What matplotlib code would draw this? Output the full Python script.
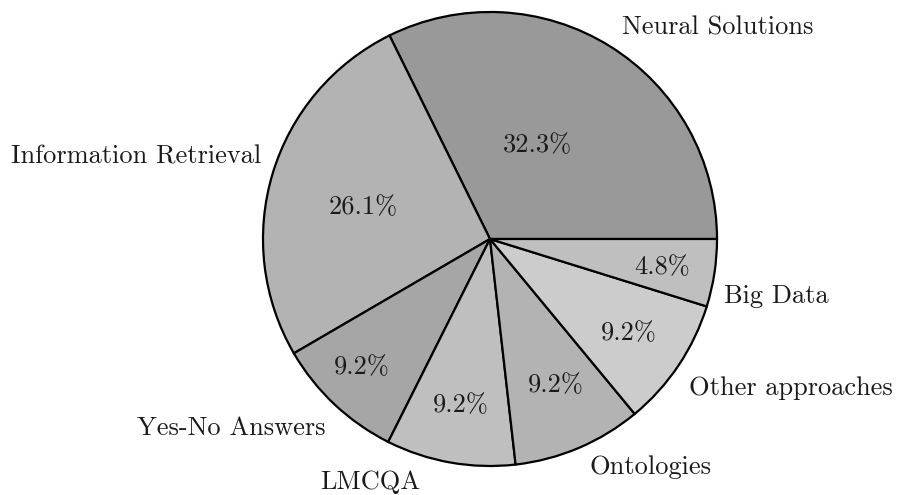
import numpy as np
import matplotlib
matplotlib.use('Agg')
from matplotlib import pyplot as plt

#%% data
categories = ['Neural Solutions', 'Information Retrieval', 'Yes-No Answers', 'LMCQA',
              'Ontologies', 'Other approaches', 'Big Data']
shares = [32.3, 26.1, 9.2, 9.2, 9.2, 9.2, 4.8]
greys = ['#999999', '#b3b3b3', '#a6a6a6', '#bfbfbf', '#b3b3b3', '#cccccc', '#bfbfbf']

# label placement (pie radius = 1)
pct_pos = [(0.211, 0.414), (-0.559, 0.141), (-0.564, -0.564), (-0.128, -0.731),
           (0.291, -0.643), (0.612, -0.414), (0.758, -0.123)]
name_pos = [(1.004, 0.93), (-1.559, 0.361), (-1.141, -0.833), (-0.529, -1.072),
            (0.709, -1.004), (1.326, -0.656), (1.26, -0.251)]

plt.rcParams['font.family'] = ['cmr10', 'DejaVu Serif']
plt.rcParams['axes.unicode_minus'] = False

#%% plot
fig = plt.figure(figsize=(8.99, 4.95), dpi=100)
ax = fig.add_axes([0, 0, 1, 1])
ax.pie(shares, colors=greys, startangle=0, counterclock=True,
       wedgeprops=dict(edgecolor='black', linewidth=1.6), radius=1.0)
ax.set_xlim(-490 / 227, (899 - 490) / 227)
ax.set_ylim(-(495 - 239) / 227, 239 / 227)
ax.set_aspect('auto')
ax.axis('off')

for val, (x, y) in zip(shares, pct_pos):
    ax.text(x, y, '%.1f%%' % val, ha='center', va='center', fontsize=19, color='#1a1a1a')
for name, (x, y) in zip(categories, name_pos):
    ax.text(x, y, name, ha='center', va='center', fontsize=19, color='#1a1a1a')

fig.savefig('out.png', dpi=100)
